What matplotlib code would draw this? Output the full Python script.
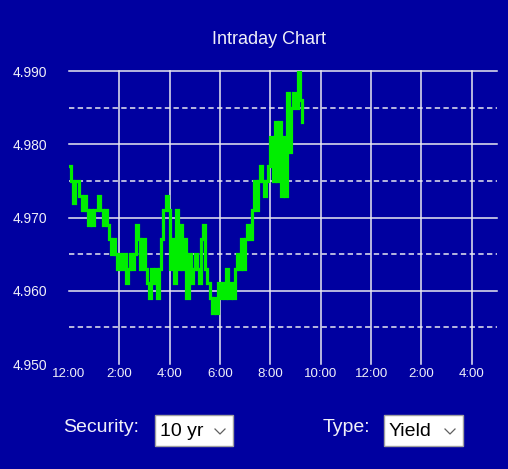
#!/usr/bin/env python
import numpy as np
import matplotlib
matplotlib.use('Agg')
import matplotlib.pyplot as plt
from matplotlib.patches import Rectangle
from matplotlib.lines import Line2D

# 5 minute samples starting at 12:00
yields = [
  4.977, 4.975, 4.972, 4.975, 4.975, 4.973, 4.971, 4.973, 4.971, 4.969,
  4.971, 4.969, 4.971, 4.971, 4.973, 4.971, 4.969, 4.971, 4.969, 4.967,
  4.965, 4.967, 4.965, 4.963, 4.965, 4.963, 4.965, 4.961, 4.963, 4.965,
  4.963, 4.965, 4.969, 4.967, 4.963, 4.967, 4.963, 4.961, 4.959, 4.963,
  4.961, 4.963, 4.959, 4.963, 4.967, 4.971, 4.973, 4.971, 4.963, 4.967,
  4.961, 4.971, 4.963, 4.969, 4.963, 4.967, 4.959, 4.965, 4.961, 4.963,
  4.965, 4.963, 4.961, 4.967, 4.969, 4.963, 4.961, 4.959, 4.957, 4.959,
  4.957, 4.961, 4.959, 4.961, 4.959, 4.963, 4.959, 4.961, 4.959, 4.963,
  4.965, 4.963, 4.967, 4.963, 4.967, 4.969, 4.967, 4.971, 4.975, 4.971,
  4.975, 4.977, 4.975, 4.973, 4.975, 4.977, 4.981, 4.975, 4.983, 4.975,
  4.983, 4.973, 4.981, 4.973, 4.987, 4.979, 4.985, 4.987, 4.985, 4.990,
  4.986, 4.983,
]
sample_min = 5
minutes = np.arange(len(yields)) * sample_min

xtick_labels = ['12:00', '2:00', '4:00', '6:00', '8:00', '10:00', '12:00', '2:00', '4:00']
ytick_labels = ['4.950', '4.960', '4.970', '4.980', '4.990']
yticks = [4.950, 4.960, 4.970, 4.980, 4.990]
ydashed = [4.955, 4.965, 4.975, 4.985]

security = '10 yr'
chart_type = 'Yield'

BG = '#0000a0'
FG = '#f0f0f8'
GRID = '#e8e8f0'
W, H = 508, 469

plt.rcParams['font.family'] = ['Liberation Sans', 'DejaVu Sans']

def fx(px):
  return px / W

def fy(py):
  return 1 - py / H

fig = plt.figure(figsize=(W / 100, H / 100), dpi=100, facecolor=BG)
ax = fig.add_axes([fx(69), fy(364), fx(497) - fx(69), fy(71) - fy(364)])
ax.set_facecolor(BG)
for s in ax.spines.values():
  s.set_visible(False)

ax.set_xlim(0, 17 * 60)
ax.set_ylim(4.950, 4.990)

# grid
for y in yticks[1:]:
  ax.axhline(y, color=GRID, lw=1.1, clip_on=False, zorder=1)
for y in ydashed:
  ax.axhline(y, color=GRID, lw=1.1, dashes=(3.5, 2.2), zorder=1)
for h in range(2, 17, 2):
  ax.axvline(h * 60, color=GRID, lw=1.1, clip_on=False, zorder=1)

ax.plot(minutes, yields, color='#00ee00', lw=2.3, drawstyle='steps-post',
        zorder=3, solid_joinstyle='miter')

ax.set_xticks(np.arange(0, 17, 2) * 60)
ax.set_xticklabels(xtick_labels)
ax.set_yticks(yticks)
ax.set_yticklabels(ytick_labels)
ax.tick_params(axis='both', length=0, colors=FG)
ax.tick_params(axis='x', pad=3, labelsize=9.5)
ax.tick_params(axis='y', pad=15.5, labelsize=10)

fig.text(fx(269), fy(40), 'Intraday Chart', color=FG, fontsize=13,
         ha='center', va='center')

# the two drop downs under the chart
def dropdown(label, lx, box_x0, box_x1, value):
  fig.text(fx(lx), fy(427), label, color=FG, fontsize=14, ha='left', va='center')
  fig.add_artist(Rectangle((fx(box_x0), fy(446)), fx(box_x1) - fx(box_x0),
                           fy(415) - fy(446), transform=fig.transFigure,
                           facecolor='white', edgecolor='#a0a0a0', lw=1))
  fig.text(fx(box_x0 + 5), fy(431), value, color='black', fontsize=14,
           ha='left', va='center')
  cx = box_x1 - 13
  fig.add_artist(Line2D([fx(cx - 5), fx(cx), fx(cx + 5)],
                        [fy(429), fy(434), fy(429)], transform=fig.transFigure,
                        color='#606060', lw=0.9))

dropdown('Security:', 63, 155, 233, security)
dropdown('Type:', 323, 384, 463, chart_type)

fig.savefig('out.png', dpi=100, facecolor=BG)
